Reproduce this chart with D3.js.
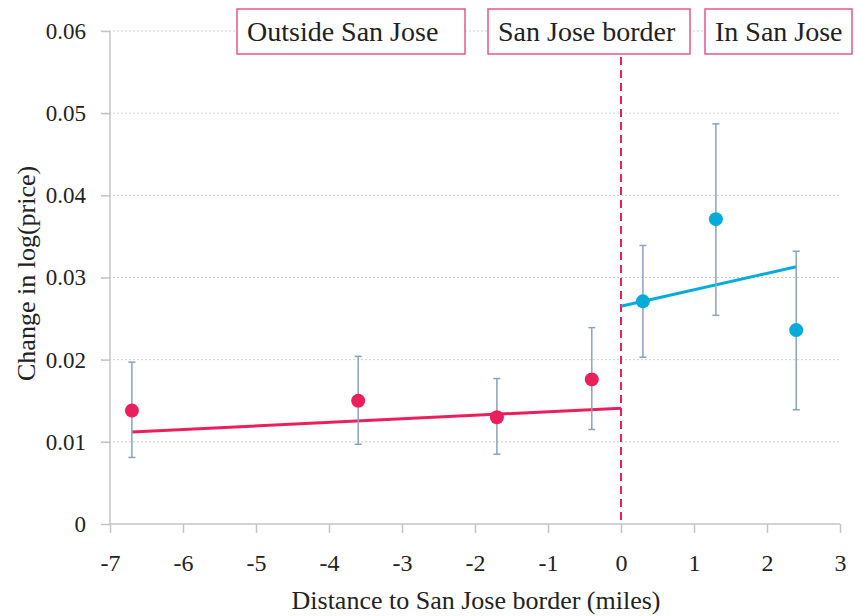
<!DOCTYPE html>
<html lang="en">
<head>
<meta charset="UTF-8">
<title>San Jose border</title>
<script src="https://d3js.org/d3.v7.min.js"></script>
<style>
  body { margin: 0; background: #fff; }
  svg text { font-family: "Liberation Serif", "DejaVu Serif", serif; fill: #222; }
</style>
</head>
<body>
<script>
// binned means with confidence intervals
const distance = [-6.7, -3.6, -1.7, -0.4, 0.3, 1.3, 2.4];
const change   = [0.0138, 0.0150, 0.0130, 0.0176, 0.0271, 0.0371, 0.0236];
const ciLow    = [0.0081, 0.0097, 0.0085, 0.0115, 0.0203, 0.0254, 0.0139];
const ciHigh   = [0.0197, 0.0204, 0.0177, 0.0239, 0.0339, 0.0487, 0.0332];
const side     = ['out', 'out', 'out', 'out', 'in', 'in', 'in'];

// fitted lines either side of the border
const fitOutX = [-6.7, 0], fitOutY = [0.0112, 0.0141];
const fitInX  = [0, 2.4],  fitInY  = [0.0265, 0.0313];

const xTicks = [-7, -6, -5, -4, -3, -2, -1, 0, 1, 2, 3];
const yTicks = [0, 0.01, 0.02, 0.03, 0.04, 0.05, 0.06];
const regionLabels = ['Outside San Jose', 'San Jose border', 'In San Jose'];

const W = 855, H = 616;
const red = '#ec1f5d', blue = '#05acd9', barColor = '#8aa2bd';

const x = d3.scaleLinear().domain([-7, 3]).range([110, 840]);
const y = d3.scaleLinear().domain([0, 0.06]).range([524, 31]);

const svg = d3.select('body').append('svg').attr('width', W).attr('height', H);

// grid
svg.append('g').selectAll('line').data(yTicks.slice(1)).join('line')
  .attr('x1', 101).attr('x2', 840)
  .attr('y1', d => y(d)).attr('y2', d => y(d))
  .attr('stroke', '#cfcfcf').attr('stroke-dasharray', '2,2');

// axes
const yAxis = svg.append('g').attr('transform', `translate(${x(-7)},0)`)
  .call(d3.axisLeft(y).tickValues(yTicks).tickSize(9).tickPadding(15)
    .tickFormat(d => d === 0 ? '0' : d3.format('.2f')(d)));
const xAxis = svg.append('g').attr('transform', `translate(0,${y(0)})`)
  .call(d3.axisBottom(x).tickValues(xTicks).tickSize(9).tickPadding(21)
    .tickFormat(d => d));
[yAxis, xAxis].forEach(a => {
  a.select('.domain').attr('stroke', '#c4c4c4').attr('stroke-width', 1.5);
  a.selectAll('.tick line').attr('stroke', '#c4c4c4').attr('stroke-width', 1.5);
});
yAxis.selectAll('text').attr('font-size', 23);
xAxis.selectAll('text').attr('font-size', 24);
yAxis.select('.domain').attr('d', `M0,${y(0)}V${y(0.06)}`);
xAxis.select('.domain').attr('d', `M${x(-7)},0H${x(3)}`);

// axis titles
svg.append('text').attr('x', 476).attr('y', 609).attr('text-anchor', 'middle')
  .attr('font-size', 26).text('Distance to San Jose border (miles)');
svg.append('text').attr('transform', `translate(35,${y(0.0305)}) rotate(-90)`)
  .attr('text-anchor', 'middle').attr('font-size', 26).text('Change in log(price)');

// border line
svg.append('line').attr('x1', x(0)).attr('x2', x(0)).attr('y1', 57).attr('y2', y(0))
  .attr('stroke', red).attr('stroke-width', 2).attr('stroke-dasharray', '8,5');

// region labels
const boxes = [[237, 465], [488, 690], [705, 852]];
const lab = svg.append('g').selectAll('g').data(regionLabels).join('g');
lab.append('rect')
  .attr('x', (d, i) => boxes[i][0]).attr('y', 9)
  .attr('width', (d, i) => boxes[i][1] - boxes[i][0]).attr('height', 45)
  .attr('fill', '#fff').attr('stroke', '#e9578a').attr('stroke-width', 1.5);
lab.append('text')
  .attr('x', (d, i) => boxes[i][0] + 10).attr('y', 41)
  .attr('font-size', 28).text(d => d);

// fitted lines
const line = d3.line().x(d => x(d[0])).y(d => y(d[1]));
svg.append('path').datum(d3.zip(fitOutX, fitOutY)).attr('d', line)
  .attr('fill', 'none').attr('stroke', red).attr('stroke-width', 3);
svg.append('path').datum(d3.zip(fitInX, fitInY)).attr('d', line)
  .attr('fill', 'none').attr('stroke', blue).attr('stroke-width', 3);

// error bars
const rows = distance.map((d, i) => ({ d, v: change[i], lo: ciLow[i], hi: ciHigh[i], s: side[i] }));
const eb = svg.append('g').selectAll('g').data(rows).join('g')
  .attr('stroke', barColor).attr('stroke-width', 1.5);
eb.append('line').attr('x1', d => x(d.d)).attr('x2', d => x(d.d))
  .attr('y1', d => y(d.lo)).attr('y2', d => y(d.hi));
eb.append('line').attr('x1', d => x(d.d) - 3.5).attr('x2', d => x(d.d) + 3.5)
  .attr('y1', d => y(d.lo)).attr('y2', d => y(d.lo));
eb.append('line').attr('x1', d => x(d.d) - 3.5).attr('x2', d => x(d.d) + 3.5)
  .attr('y1', d => y(d.hi)).attr('y2', d => y(d.hi));

// points
svg.append('g').selectAll('circle').data(rows).join('circle')
  .attr('cx', d => x(d.d)).attr('cy', d => y(d.v)).attr('r', 7)
  .attr('fill', d => d.s === 'out' ? red : blue);
</script>
</body>
</html>
